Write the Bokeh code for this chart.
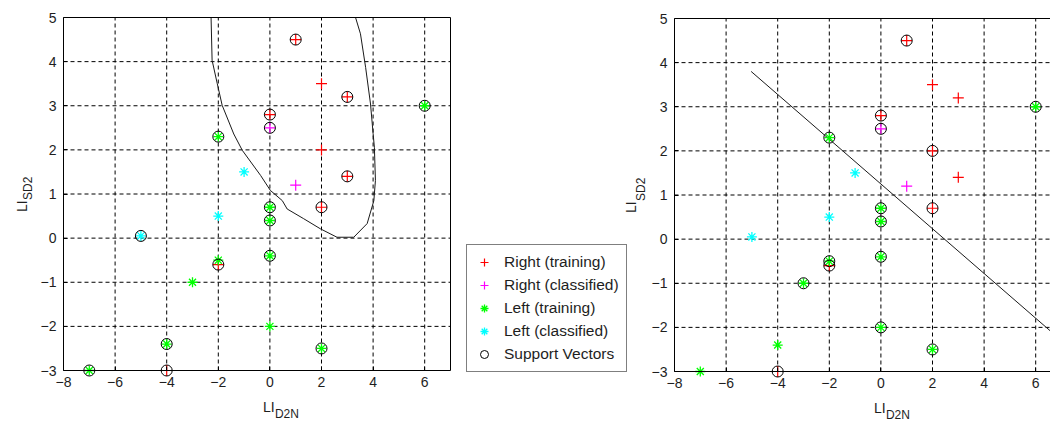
from math import pi
from bokeh.plotting import figure
from bokeh.models import Legend, LegendItem, Label, LinearAxis, FixedTicker, Range1d
from bokeh.layouts import row
from bokeh.embed import file_html
from bokeh.resources import INLINE

# ---------------- data ----------------
x_ticks = [-8, -6, -4, -2, 0, 2, 4, 6]
y_ticks = [-3, -2, -1, 0, 1, 2, 3, 4, 5]
x_limits = (-8, 7)
y_limits = (-3, 5)

right_train_x = [1, 2, 3, 0, 2, 3, 2, -2, -4]
right_train_y = [4.5, 3.5, 3.2, 2.8, 2.0, 1.4, 0.7, -0.6, -3.0]
right_class_x = [0, 1]
right_class_y = [2.5, 1.2]
left_train_x = [6, -2, 0, 0, 0, -2, -3, 0, -4, 2, -7]
left_train_y = [3.0, 2.3, 0.7, 0.4, -0.4, -0.5, -1.0, -2.0, -2.4, -2.5, -3.0]
left_class_x = [-1, -2, -5]
left_class_y = [1.5, 0.5, 0.05]

# support vectors, quadratic-kernel model (left panel)
sv_quad_x = [1, 3, 0, 0, 6, -2, 3, 2, 0, 0, 0, -5, -2, -4, 2, -7, -4]
sv_quad_y = [4.5, 3.2, 2.8, 2.5, 3.0, 2.3, 1.4, 0.7, 0.7, 0.4, -0.4, 0.05, -0.6, -2.4, -2.5, -3.0, -3.0]
# support vectors, linear model (right panel)
sv_lin_x = [1, 0, 0, 6, -2, 2, 2, 0, 0, 0, -2, -2, -3, 0, 2, -4]
sv_lin_y = [4.5, 2.8, 2.5, 3.0, 2.3, 2.0, 0.7, 0.7, 0.4, -0.4, -0.5, -0.6, -1.0, -2.0, -2.5, -3.0]

# decision boundaries
boundary_quad_x = [-2.28, -2.24, -2.04, -1.85, -1.40, -1.07, -0.36, 0.02, 0.48, 0.67, 1.31, 1.96,
                   2.6, 3.25, 3.77, 4.03, 4.09, 4.05, 4.0, 3.90, 3.71, 3.51, 3.32]
boundary_quad_y = [5.0, 4.03, 3.50, 3.01, 2.36, 1.99, 1.42, 1.08, 0.85, 0.66, 0.44, 0.21,
                   0.02, 0.02, 0.33, 0.85, 1.31, 2.06, 2.37, 3.04, 3.87, 4.63, 5.0]
boundary_lin_x = [-5.03, 7.0]
boundary_lin_y = [3.80, -2.30]

legend_labels = ["Right (training)", "Right (classified)", "Left (training)",
                 "Left (classified)", "Support Vectors"]

FONT = "Liberation Sans"
TXT = "#1e1e1e"
H = 420


def padded_range(lo, hi, px_lo, px_hi, length):
    """Range whose values lo/hi land on pixel px_lo/px_hi of a frame of given length."""
    k = (px_hi - px_lo) / (hi - lo)
    return Range1d(lo - px_lo / k, hi + (length - px_hi) / k)


def make_plot(width, frame_left, frame_top, frame_bottom, sv_x, sv_y, bx, by, right_box,
              ylab_off):
    # the frame covers the whole canvas; the visible box is drawn by fixed-location axes
    xr = padded_range(x_limits[0], x_limits[1], frame_left, frame_left + 387, width)
    yr = padded_range(y_limits[0], y_limits[1], H - frame_bottom, H - frame_top, H)
    p = figure(width=width, height=H, x_range=xr, y_range=yr, output_backend="svg",
               toolbar_location=None, min_border=0, x_axis_type=None, y_axis_type=None)
    p.outline_line_color = None
    p.xgrid.visible = False
    p.ygrid.visible = False

    def axis(side, loc, ticks, bounds):
        ax = LinearAxis(ticker=FixedTicker(ticks=ticks), fixed_location=loc, bounds=bounds,
                        axis_line_color="black", axis_line_width=1,
                        major_tick_in=4, major_tick_out=0, minor_tick_in=0, minor_tick_out=0,
                        major_tick_line_color="black",
                        major_label_text_font=FONT, major_label_text_font_size="14px",
                        major_label_text_color=TXT)
        if side == "below":
            ax.major_label_standoff = 6
        if side == "left":
            ax.major_label_standoff = 7
        p.add_layout(ax, side)

    axis("below", y_limits[0], x_ticks, x_limits)
    axis("left", x_limits[0], y_ticks, y_limits)
    axis("above", y_limits[1], [], x_limits)
    if right_box:
        axis("right", x_limits[1], [], y_limits)

    # dashed grid, bounded to the axes box
    gx = [t for t in x_ticks if x_limits[0] < t < x_limits[1]]
    gy = [t for t in y_ticks if y_limits[0] < t < y_limits[1]]
    p.segment(x0=gx, x1=gx, y0=[y_limits[0]] * len(gx), y1=[y_limits[1]] * len(gx),
              line_color="black", line_dash="4 3", line_width=1)
    p.segment(x0=[x_limits[0]] * len(gy), x1=[x_limits[1]] * len(gy), y0=gy, y1=gy,
              line_color="black", line_dash="4 3", line_width=1)

    p.line(bx, by, line_color="#1a1a1a", line_width=1)

    r1 = p.scatter(right_train_x, right_train_y, marker="cross", size=11, line_color="#ff0000", line_width=1.2)
    r2 = p.scatter(right_class_x, right_class_y, marker="cross", size=11, line_color="#ff00ff", line_width=1.2)
    r3 = p.scatter(left_train_x, left_train_y, marker="asterisk", size=10, line_color="#00ff00", line_width=1.3)
    r4 = p.scatter(left_class_x, left_class_y, marker="asterisk", size=10, line_color="#00ffff", line_width=1.3)
    r5 = p.scatter(sv_x, sv_y, marker="circle", size=11, fill_color=None, line_color="black", line_width=1)

    # axis titles with subscripts
    lab = dict(text_font=FONT, text_color=TXT, text_align="left", text_baseline="alphabetic")
    p.add_layout(Label(x=0, y=y_limits[0], x_offset=-7, y_offset=-36, text="LI",
                       text_font_size="14px", **lab))
    p.add_layout(Label(x=0, y=y_limits[0], x_offset=5, y_offset=-43, text="D2N",
                       text_font_size="12px", **lab))
    li_x, sub_x = ylab_off
    p.add_layout(Label(x=x_limits[0], y=1, x_offset=li_x, y_offset=-18, text="LI",
                       text_font_size="14px", angle=pi / 2, **lab))
    p.add_layout(Label(x=x_limits[0], y=1, x_offset=sub_x, y_offset=-6, text="SD2",
                       text_font_size="12px", angle=pi / 2, **lab))
    return p, [r1, r2, r3, r4, r5]


left, _ = make_plot(460, 63, 17, 370, sv_quad_x, sv_quad_y,
                    boundary_quad_x, boundary_quad_y, True, (-42, -36))
right, rends = make_plot(590, 214, 18, 371, sv_lin_x, sv_lin_y,
                         boundary_lin_x, boundary_lin_y, False, (-44, -34))

legend = Legend(items=[LegendItem(label=t, renderers=[r]) for t, r in zip(legend_labels, rends)],
                location=(6, 48), border_line_color="black", border_line_width=1,
                background_fill_color="white", background_fill_alpha=1.0,
                padding=7, spacing=3, label_height=20, glyph_width=20, glyph_height=20,
                label_standoff=10, label_text_font=FONT, label_text_font_size="15.5px",
                label_text_color=TXT, margin=0)
right.add_layout(legend)

layout = row(left, right)
open("out.html", "w").write(file_html(layout, INLINE))
